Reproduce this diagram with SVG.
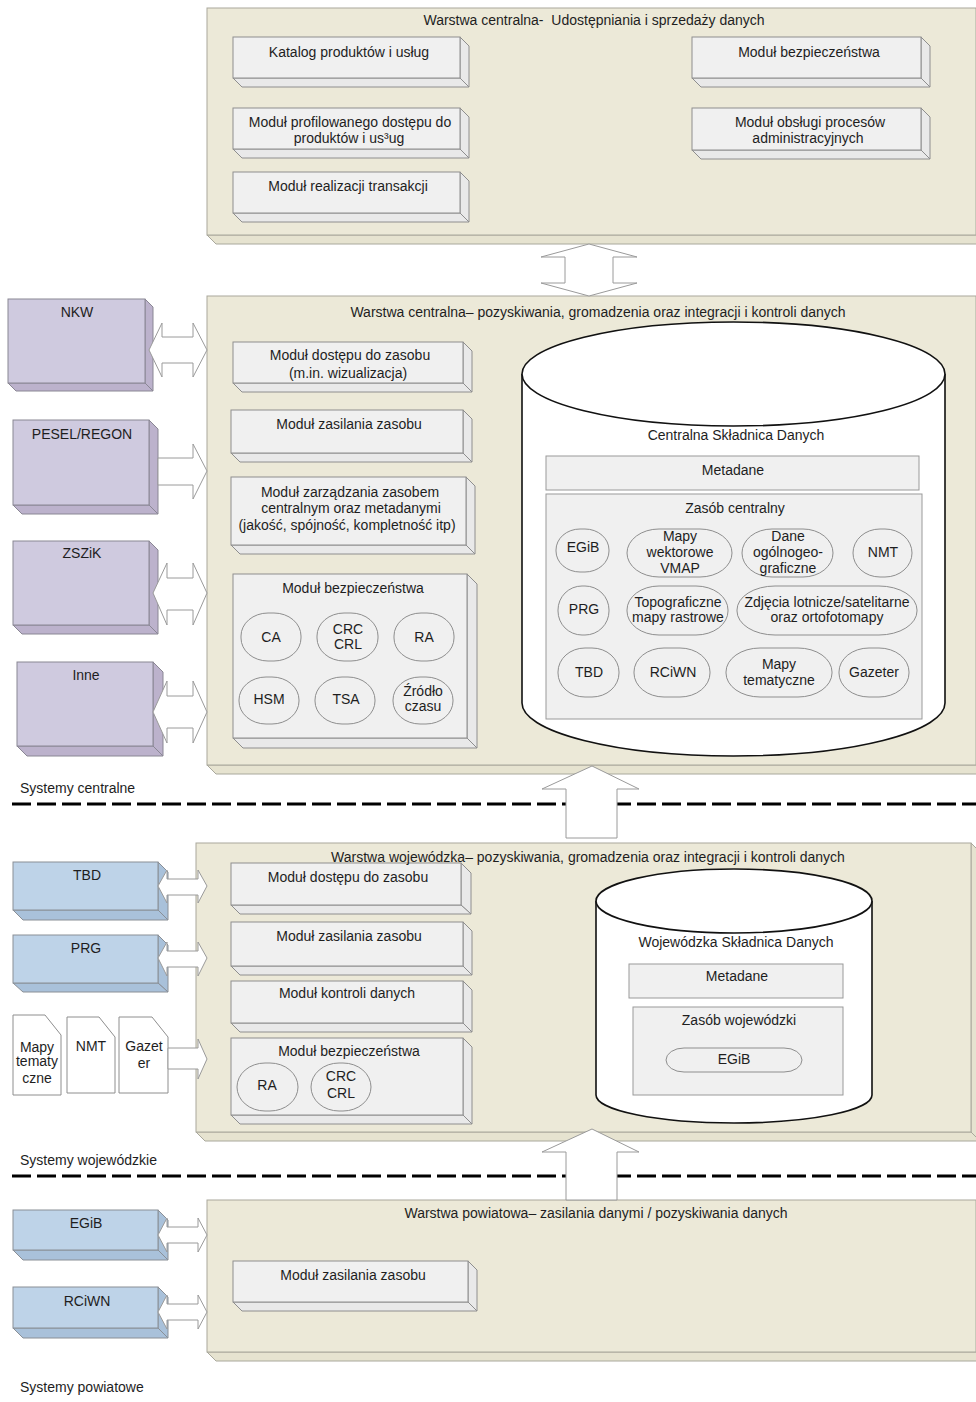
<svg xmlns="http://www.w3.org/2000/svg" width="976" height="1402" viewBox="0 0 976 1402">
<style>
text{font-family:"Liberation Sans",Arial,sans-serif;font-size:14px;fill:#1e1e1e;text-anchor:middle}
.lt{text-anchor:start}
.lf{fill:#ECE9D8;stroke:#A9A89C;stroke-width:1}
.ls{fill:#E6E3D0;stroke:#A9A89C;stroke-width:1}
.mf{fill:#F0F0F0;stroke:#8E8E8E;stroke-width:1}
.ms{fill:#E9E9E9;stroke:#8E8E8E;stroke-width:1}
.pf{fill:#CFCADF;stroke:#8A8794;stroke-width:1}
.ps{fill:#BCB2CC;stroke:#8A8794;stroke-width:1}
.bf{fill:#BED3E8;stroke:#8A8F96;stroke-width:1}
.bs{fill:#A9C1DA;stroke:#8A8F96;stroke-width:1}
.pill{fill:#F0F0F0;stroke:#8E8E8E;stroke-width:1}
.inner{fill:#F0F0F0;stroke:#9A9A9A;stroke-width:1}
.cyl{fill:#FFFFFF;stroke:#111;stroke-width:1.6}
.arr{fill:#FFFFFF;stroke:#9A9A9A;stroke-width:1}
.doc{fill:#FFFFFF;stroke:#8E8E8E;stroke-width:1}
.dash{stroke:#000;stroke-width:3.2;stroke-dasharray:19 6;fill:none}
</style>
<rect x="0" y="0" width="976" height="1402" fill="#FFFFFF"/>

<!-- Layer 1 -->
<g id="layer-udostepniania">
<polygon class="ls" points="207,235 976,235 985,244 216,244"/>
<rect class="lf" x="207" y="8" width="769" height="227"/>
<text x="594" y="25" style="white-space:pre">Warstwa centralna-  Udostępniania i sprzedaży danych</text>
</g>
<g id="l1-katalog">
<polygon class="ms" points="460,37 469,46 469,87 460,78"/><polygon class="ms" points="233,78 460,78 469,87 242,87"/>
<rect class="mf" x="233" y="37" width="227" height="41"/>
<text x="349" y="57">Katalog produktów i usług</text>
</g>
<g id="l1-profil">
<polygon class="ms" points="460,108 469,117 469,158 460,149"/><polygon class="ms" points="233,149 460,149 469,158 242,158"/>
<rect class="mf" x="233" y="108" width="227" height="41"/>
<text x="350" y="127">Moduł profilowanego dostępu do</text>
<text x="349" y="143">produktów i us³ug</text>
</g>
<g id="l1-transakcje">
<polygon class="ms" points="460,172 469,181 469,222 460,213"/><polygon class="ms" points="233,213 460,213 469,222 242,222"/>
<rect class="mf" x="233" y="172" width="227" height="41"/>
<text x="348" y="191">Moduł realizacji transakcji</text>
</g>
<g id="l1-bezp">
<polygon class="ms" points="921,37 930,46 930,87 921,78"/><polygon class="ms" points="692,78 921,78 930,87 701,87"/>
<rect class="mf" x="692" y="37" width="229" height="41"/>
<text x="809" y="57">Moduł bezpieczeństwa</text>
</g>
<g id="l1-obslugi">
<polygon class="ms" points="921,108 930,117 930,159 921,150"/><polygon class="ms" points="692,150 921,150 930,159 701,159"/>
<rect class="mf" x="692" y="108" width="229" height="42"/>
<text x="810" y="127">Moduł obsługi procesów</text>
<text x="808" y="143">administracyjnych</text>
</g>

<!-- Layer 2 -->
<g id="layer-centralna">
<polygon class="ls" points="207,765 976,765 985,774 216,774"/>
<rect class="lf" x="207" y="296" width="769" height="469"/>
<text x="598" y="317">Warstwa centralna– pozyskiwania, gromadzenia oraz integracji i kontroli danych</text>
</g>
<g id="l2-dostep">
<polygon class="ms" points="463,342 472,351 472,392 463,383"/><polygon class="ms" points="233,383 463,383 472,392 242,392"/>
<rect class="mf" x="233" y="342" width="230" height="41"/>
<text x="350" y="360">Moduł dostępu do zasobu</text>
<text x="348" y="378">(m.in. wizualizacja)</text>
</g>
<g id="l2-zasilanie">
<polygon class="ms" points="463,410 472,419 472,462 463,453"/><polygon class="ms" points="231,453 463,453 472,462 240,462"/>
<rect class="mf" x="231" y="410" width="232" height="43"/>
<text x="349" y="429">Moduł zasilania zasobu</text>
</g>
<g id="l2-zarzadzanie">
<polygon class="ms" points="466,477 475,486 475,554 466,545"/><polygon class="ms" points="231,545 466,545 475,554 240,554"/>
<rect class="mf" x="231" y="477" width="235" height="68"/>
<text x="350" y="497">Moduł zarządzania zasobem</text>
<text x="351" y="513">centralnym oraz metadanymi</text>
<text x="347" y="530">(jakość, spójność, kompletność itp)</text>
</g>
<g id="l2-bezp">
<polygon class="ms" points="467,574 477,584 477,748 467,738"/><polygon class="ms" points="233,738 467,738 477,748 243,748"/>
<rect class="mf" x="233" y="574" width="234" height="164"/>
<text x="353" y="593">Moduł bezpieczeństwa</text>
<rect class="pill" x="241" y="613" width="60" height="48" rx="27" ry="23"/><text x="271" y="642">CA</text>
<rect class="pill" x="317" y="613" width="61" height="48" rx="27" ry="23"/><text x="348" y="634">CRC</text><text x="348" y="649">CRL</text>
<rect class="pill" x="394" y="613" width="60" height="48" rx="27" ry="23"/><text x="424" y="642">RA</text>
<rect class="pill" x="239" y="677" width="60" height="47" rx="27" ry="23"/><text x="269" y="704">HSM</text>
<rect class="pill" x="315" y="677" width="60" height="47" rx="27" ry="23"/><text x="346" y="704">TSA</text>
<rect class="pill" x="393" y="677" width="60" height="47" rx="27" ry="23"/><text x="423" y="696">Źródło</text><text x="423" y="711">czasu</text>
</g>

<g id="csd">
<path class="cyl" d="M522,374 L522,703 A211.5,53 0 0 0 945,703 L945,374"/>
<ellipse class="cyl" cx="733.5" cy="374" rx="211.5" ry="52"/>
<text x="736" y="440">Centralna Składnica Danych</text>
<rect class="inner" x="546" y="456" width="373" height="34"/>
<text x="733" y="475">Metadane</text>
<rect class="inner" x="546" y="494" width="376" height="225"/>
<text x="735" y="513">Zasób centralny</text>
<rect class="pill" x="556" y="529" width="53" height="43" rx="24" ry="21"/><text x="583" y="552">EGiB</text>
<rect class="pill" x="627" y="529" width="105" height="48" rx="32" ry="24"/><text x="680" y="541">Mapy</text><text x="680" y="557">wektorowe</text><text x="680" y="573">VMAP</text>
<rect class="pill" x="742" y="529" width="91" height="48" rx="30" ry="24"/><text x="788" y="541">Dane</text><text x="788" y="557">ogólnogeo-</text><text x="788" y="573">graficzne</text>
<rect class="pill" x="853" y="529" width="59" height="48" rx="27" ry="24"/><text x="883" y="557">NMT</text>
<rect class="pill" x="558" y="586" width="51" height="49" rx="24" ry="24"/><text x="584" y="614">PRG</text>
<rect class="pill" x="627" y="586" width="101" height="49" rx="32" ry="24"/><text x="678" y="607">Topograficzne</text><text x="678" y="622">mapy rastrowe</text>
<rect class="pill" x="737" y="586" width="180" height="49" rx="38" ry="24"/><text x="827" y="607">Zdjęcia lotnicze/satelitarne</text><text x="827" y="622">oraz ortofotomapy</text>
<rect class="pill" x="558" y="648" width="61" height="49" rx="27" ry="24"/><text x="589" y="677">TBD</text>
<rect class="pill" x="634" y="648" width="76" height="49" rx="30" ry="24"/><text x="673" y="677">RCiWN</text>
<rect class="pill" x="726" y="648" width="106" height="49" rx="34" ry="24"/><text x="779" y="669">Mapy</text><text x="779" y="685">tematyczne</text>
<rect class="pill" x="839" y="648" width="70" height="49" rx="30" ry="24"/><text x="874" y="677">Gazeter</text>
</g>

<!-- central systems -->
<g id="sys-nkw">
<polygon class="ps" points="145,299 153,307 153,391 145,383"/><polygon class="ps" points="8,383 145,383 153,391 16,391"/>
<rect class="pf" x="8" y="299" width="137" height="84"/>
<text x="77" y="317">NKW</text>
</g>
<g id="sys-pesel">
<polygon class="ps" points="149,420 158,429 158,514 149,505"/><polygon class="ps" points="13,505 149,505 158,514 22,514"/>
<rect class="pf" x="13" y="420" width="136" height="85"/>
<text x="82" y="439">PESEL/REGON</text>
</g>
<g id="sys-zszik">
<polygon class="ps" points="149,541 158,550 158,634 149,625"/><polygon class="ps" points="13,625 149,625 158,634 22,634"/>
<rect class="pf" x="13" y="541" width="136" height="84"/>
<text x="82" y="558">ZSZiK</text>
</g>
<g id="sys-inne">
<polygon class="ps" points="153,662 163,672 163,756 153,746"/><polygon class="ps" points="17,746 153,746 163,756 27,756"/>
<rect class="pf" x="17" y="662" width="136" height="84"/>
<text x="86" y="680">Inne</text>
</g>

<!-- Layer 3 -->
<g id="layer-wojewodzka">
<polygon class="ls" points="971,843 980,852 980,1141 971,1132"/>
<polygon class="ls" points="196,1132 971,1132 980,1141 205,1141"/>
<rect class="lf" x="196" y="843" width="775" height="289"/>
</g>
<g id="l3-dostep">
<polygon class="ms" points="461,863 471,873 471,914 461,905"/><polygon class="ms" points="231,905 461,905 471,914 240,914"/>
<rect class="mf" x="231" y="863" width="230" height="42"/>
<text x="348" y="882">Moduł dostępu do zasobu</text>
</g>
<g id="layer-wojewodzka-title">
<text x="588" y="862">Warstwa wojewódzka– pozyskiwania, gromadzenia oraz integracji i kontroli danych</text>
</g>
<g id="l3-zasilanie">
<polygon class="ms" points="463,922 472,931 472,975 463,966"/><polygon class="ms" points="231,966 463,966 472,975 240,975"/>
<rect class="mf" x="231" y="922" width="232" height="44"/>
<text x="349" y="941">Moduł zasilania zasobu</text>
</g>
<g id="l3-kontrola">
<polygon class="ms" points="463,981 472,990 472,1032 463,1023"/><polygon class="ms" points="231,1023 463,1023 472,1032 240,1032"/>
<rect class="mf" x="231" y="981" width="232" height="42"/>
<text x="347" y="998">Moduł kontroli danych</text>
</g>
<g id="l3-bezp">
<polygon class="ms" points="463,1038 472,1047 472,1124 463,1115"/><polygon class="ms" points="231,1115 463,1115 472,1124 240,1124"/>
<rect class="mf" x="231" y="1038" width="232" height="77"/>
<text x="349" y="1056">Moduł bezpieczeństwa</text>
<rect class="pill" x="237" y="1063" width="61" height="48" rx="28" ry="24"/><text x="267" y="1090">RA</text>
<rect class="pill" x="311" y="1063" width="60" height="48" rx="28" ry="24"/><text x="341" y="1081">CRC</text><text x="341" y="1098">CRL</text>
</g>
<g id="wsd">
<path class="cyl" d="M596,901 L596,1095 A138,28 0 0 0 872,1095 L872,901"/>
<ellipse class="cyl" cx="734" cy="901" rx="138" ry="32"/>
<text x="736" y="947">Wojewódzka Składnica Danych</text>
<rect class="inner" x="629" y="964" width="214" height="34"/>
<text x="737" y="981">Metadane</text>
<rect class="inner" x="633" y="1007" width="210" height="88"/>
<text x="739" y="1025">Zasób wojewódzki</text>
<rect class="pill" x="666" y="1048" width="136" height="24" rx="18" ry="12"/><text x="734" y="1064">EGiB</text>
</g>

<!-- voivodeship systems -->
<g id="sys-tbd">
<polygon class="bs" points="158,862 168,872 168,920 158,910"/><polygon class="bs" points="13,910 158,910 168,920 23,920"/>
<rect class="bf" x="13" y="862" width="145" height="48"/>
<text x="87" y="880">TBD</text>
</g>
<g id="sys-prg">
<polygon class="bs" points="158,935 168,945 168,992 158,983"/><polygon class="bs" points="13,983 158,983 168,992 23,992"/>
<rect class="bf" x="13" y="935" width="145" height="48"/>
<text x="86" y="953">PRG</text>
</g>
<g id="doc-mapy">
<path class="doc" d="M13,1015 H45 L61,1035 V1095 H13 Z"/>
<text x="37" y="1052">Mapy</text><text x="37" y="1066">tematy</text><text x="37" y="1083">czne</text>
</g>
<g id="doc-nmt">
<path class="doc" d="M67,1017 H99 L115,1037 V1093 H67 Z"/>
<text x="91" y="1051">NMT</text>
</g>
<g id="doc-gazeter">
<path class="doc" d="M119,1017 H152 L168,1037 V1093 H119 Z"/>
<text x="144" y="1051">Gazet</text><text x="144" y="1068">er</text>
</g>

<!-- Layer 4 -->
<g id="layer-powiatowa">
<polygon class="ls" points="207,1352 976,1352 985,1361 216,1361"/>
<rect class="lf" x="207" y="1200" width="769" height="152"/>
<text x="596" y="1218">Warstwa powiatowa– zasilania danymi / pozyskiwania danych</text>
</g>
<g id="l4-zasilanie">
<polygon class="ms" points="468,1261 477,1270 477,1311 468,1302"/><polygon class="ms" points="233,1302 468,1302 477,1311 242,1311"/>
<rect class="mf" x="233" y="1261" width="235" height="41"/>
<text x="353" y="1280">Moduł zasilania zasobu</text>
</g>
<g id="sys-egib">
<polygon class="bs" points="158,1210 168,1220 168,1260 158,1250"/><polygon class="bs" points="13,1250 158,1250 168,1260 23,1260"/>
<rect class="bf" x="13" y="1210" width="145" height="40"/>
<text x="86" y="1228">EGiB</text>
</g>
<g id="sys-rciwn">
<polygon class="bs" points="158,1287 168,1297 168,1338 158,1328"/><polygon class="bs" points="13,1328 158,1328 168,1338 23,1338"/>
<rect class="bf" x="13" y="1287" width="145" height="41"/>
<text x="87" y="1306">RCiWN</text>
</g>

<!-- section labels and separators -->
<g id="separators">
<text class="lt" x="20" y="793">Systemy centralne</text>
<line class="dash" x1="12" y1="804" x2="976" y2="804"/>
<text class="lt" x="20" y="1165">Systemy wojewódzkie</text>
<line class="dash" x1="12" y1="1176" x2="976" y2="1176"/>
<text class="lt" x="20" y="1392">Systemy powiatowe</text>
</g>

<!-- connectors -->
<g id="connectors">
<polygon class="arr" points="589,244 637,257 613,257 613,283 637,283 589,296 541,283 565,283 565,257 541,257"/>
<polygon class="arr" points="592,766 639,789 617,789 617,838 566,838 566,789 542,789"/>
<polygon class="arr" points="592,1129 639,1152 617,1152 617,1200 566,1200 566,1152 542,1152"/>
<polygon class="arr" points="149,350 162,323 162,337 193,337 193,323 207,350 193,377 193,363 162,363 162,377"/>
<polygon class="arr" points="158,458 193,458 193,444 207,471 193,499 193,485 158,485"/>
<polygon class="arr" points="153,593 167,563 167,578 193,578 193,563 207,593 193,625 193,610 167,610 167,625"/>
<polygon class="arr" points="153,712 167,681 167,696 193,696 193,681 207,712 193,743 193,728 167,728 167,743"/>
<polygon class="arr" points="158,886 167,870 167,879 198,879 198,870 207,886 198,903 198,895 167,895 167,903"/>
<polygon class="arr" points="158,958 167,942 167,951 198,951 198,942 207,958 198,976 198,967 167,967 167,976"/>
<polygon class="arr" points="168,1048 198,1048 198,1039 207,1059 198,1079 198,1069 168,1069"/>
<polygon class="arr" points="158,1235 167,1218 167,1227 198,1227 198,1218 207,1235 198,1252 198,1243 167,1243 167,1252"/>
<polygon class="arr" points="158,1312 167,1295 167,1304 198,1304 198,1295 207,1312 198,1329 198,1320 167,1320 167,1329"/>
</g>
</svg>
